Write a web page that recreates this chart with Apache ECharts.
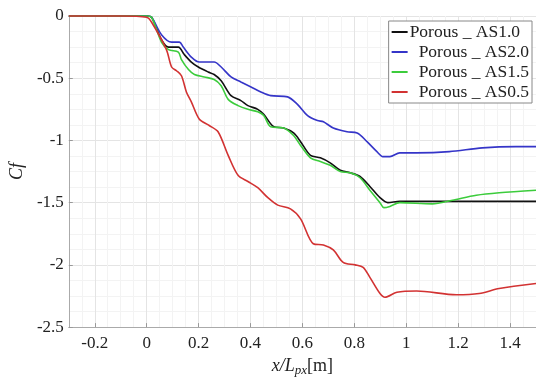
<!DOCTYPE html>
<html>
<head>
<meta charset="utf-8">
<script src="https://cdn.jsdelivr.net/npm/echarts@6/dist/echarts.min.js"></script>
<style>
  html, body { margin: 0; padding: 0; background: #fff; }
  #chart { width: 536px; height: 382px; }
</style>
</head>
<body>
<div id="chart"></div>
<script>
// series names (legend order)
const names = ['Porous _ AS1.0', 'Porous _ AS2.0', 'Porous _ AS1.5', 'Porous _ AS0.5']
const colors = ['#111111', '#3535c8', '#3ccc3c', '#d23232']

// [x/Lpx, Cf]
const as10 = [[-0.3,0],[-0.1,0],[0,0],[0.019,-0.01],[0.057,-0.19],[0.084,-0.25],[0.122,-0.25],[0.145,-0.31],
  [0.172,-0.37],[0.199,-0.41],[0.237,-0.45],[0.26,-0.47],[0.287,-0.52],[0.325,-0.64],[0.363,-0.68],
  [0.39,-0.72],[0.428,-0.75],[0.451,-0.79],[0.49,-0.89],[0.528,-0.9],[0.566,-0.94],[0.593,-1.01],
  [0.631,-1.12],[0.669,-1.14],[0.707,-1.18],[0.746,-1.24],[0.784,-1.26],[0.822,-1.29],[0.86,-1.37],
  [0.899,-1.46],[0.929,-1.5],[0.975,-1.49],[1.166,-1.49],[1.5,-1.49]]
const as20 = [[-0.3,0],[-0.1,0],[0,0],[0.019,-0.01],[0.057,-0.15],[0.096,-0.21],[0.126,-0.21],[0.141,-0.25],
  [0.172,-0.33],[0.203,-0.37],[0.26,-0.37],[0.287,-0.41],[0.325,-0.49],[0.363,-0.53],[0.402,-0.57],
  [0.44,-0.61],[0.478,-0.64],[0.543,-0.65],[0.581,-0.71],[0.62,-0.8],[0.658,-0.84],[0.681,-0.85],
  [0.719,-0.9],[0.772,-0.93],[0.811,-0.94],[0.849,-1.01],[0.887,-1.09],[0.91,-1.13],[0.937,-1.13],
  [0.975,-1.1],[1.04,-1.1],[1.166,-1.09],[1.293,-1.06],[1.423,-1.05],[1.5,-1.05]]
const as15 = [[-0.3,0],[-0.1,0],[0,0],[0.019,-0.01],[0.057,-0.21],[0.084,-0.27],[0.122,-0.29],[0.134,-0.35],
  [0.161,-0.43],[0.184,-0.47],[0.222,-0.49],[0.26,-0.51],[0.287,-0.56],[0.314,-0.67],[0.352,-0.72],
  [0.39,-0.75],[0.428,-0.77],[0.451,-0.8],[0.478,-0.89],[0.528,-0.9],[0.566,-0.96],[0.593,-1.04],
  [0.631,-1.14],[0.669,-1.17],[0.707,-1.2],[0.746,-1.25],[0.784,-1.26],[0.822,-1.3],[0.86,-1.4],
  [0.899,-1.5],[0.914,-1.54],[0.937,-1.53],[0.975,-1.5],[1.1,-1.51],[1.178,-1.48],[1.27,-1.44],
  [1.358,-1.42],[1.5,-1.4]]
const as05 = [[-0.3,0],[-0.1,0],[0,-0.01],[0.019,-0.05],[0.076,-0.27],[0.096,-0.41],[0.115,-0.44],[0.134,-0.48],
  [0.153,-0.61],[0.172,-0.69],[0.203,-0.83],[0.241,-0.88],[0.275,-0.93],[0.314,-1.12],[0.352,-1.28],
  [0.39,-1.33],[0.428,-1.38],[0.467,-1.46],[0.505,-1.52],[0.554,-1.55],[0.593,-1.63],[0.642,-1.83],
  [0.681,-1.84],[0.719,-1.88],[0.757,-1.98],[0.803,-2.0],[0.834,-2.02],[0.86,-2.1],[0.899,-2.23],
  [0.918,-2.26],[0.964,-2.22],[1.04,-2.21],[1.193,-2.24],[1.281,-2.23],[1.358,-2.19],[1.5,-2.15]]
const seriesData = [as10, as20, as15, as05]

const serif = '"Liberation Serif", "DejaVu Serif", serif'

let chart = echarts.init(document.getElementById('chart'))

let series = names.map((n, i) => ({
  name: n,
  type: 'line',
  data: seriesData[i],
  showSymbol: false,
  smooth: 0.3,
  clip: false,
  lineStyle: { color: colors[i], width: 1.6 },
  itemStyle: { color: colors[i] }
}))

let option = {
  animation: false,
  backgroundColor: '#fff',
  grid: { left: 66, right: 0, top: 16, bottom: 51 },
  legend: {
    right: 4, top: 21,
    orient: 'vertical',
    icon: 'rect',
    itemWidth: 16, itemHeight: 2,
    itemGap: 2,
    padding: [2, 3, 2, 3],
    backgroundColor: '#fff',
    borderColor: '#888',
    borderWidth: 1,
    borderRadius: 0,
    textStyle: {
      fontFamily: serif, fontSize: 17.5, color: '#222', padding: [0, 0, 0, -3],
      rich: { p: { width: 9 } }
    },
    formatter: n => n === names[0] ? n : '{p|}' + n,
    data: names
  },
  xAxis: {
    type: 'value',
    min: -0.3, max: 1.5,
    splitNumber: 9,
    minInterval: 0.2, maxInterval: 0.2,
    name: '{i|x/L}{s|px}{n|[m]}',
    nameLocation: 'middle',
    nameGap: 26,
    nameTextStyle: {
      rich: {
        i: { fontFamily: serif, fontStyle: 'italic', fontSize: 18, color: '#222' },
        s: { fontFamily: serif, fontStyle: 'italic', fontSize: 13, color: '#222', verticalAlign: 'bottom', padding: [9, 0, 0, 0] },
        n: { fontFamily: serif, fontSize: 18, color: '#222' }
      }
    },
    axisLine: { onZero: false, lineStyle: { color: '#aaa' } },
    axisTick: { inside: true, length: 4, lineStyle: { color: '#999' } },
    axisLabel: { showMinLabel: false, showMaxLabel: false, fontFamily: serif, fontSize: 17, color: '#222', margin: 8 },
    splitLine: { show: true, lineStyle: { color: '#e4e4e4' } },
    minorTick: { show: false, splitNumber: 4 },
    minorSplitLine: { show: true, lineStyle: { color: '#f3f3f3' } }
  },
  yAxis: {
    type: 'value',
    min: -2.5, max: 0,
    interval: 0.5,
    name: 'Cf',
    nameLocation: 'middle',
    nameGap: 40,
    nameTextStyle: { fontFamily: serif, fontStyle: 'italic', fontSize: 18, color: '#222' },
    axisLine: { show: true, onZero: false, lineStyle: { color: '#aaa' } },
    axisTick: { show: true, inside: true, length: 4, lineStyle: { color: '#999' } },
    axisLabel: { fontFamily: serif, fontSize: 17, color: '#222', margin: 5 },
    splitLine: { show: true, lineStyle: { color: '#e4e4e4' } },
    minorTick: { show: false, splitNumber: 4 },
    minorSplitLine: { show: true, lineStyle: { color: '#f3f3f3' } }
  },
  series: series
}

chart.setOption(option)
</script>
</body>
</html>
